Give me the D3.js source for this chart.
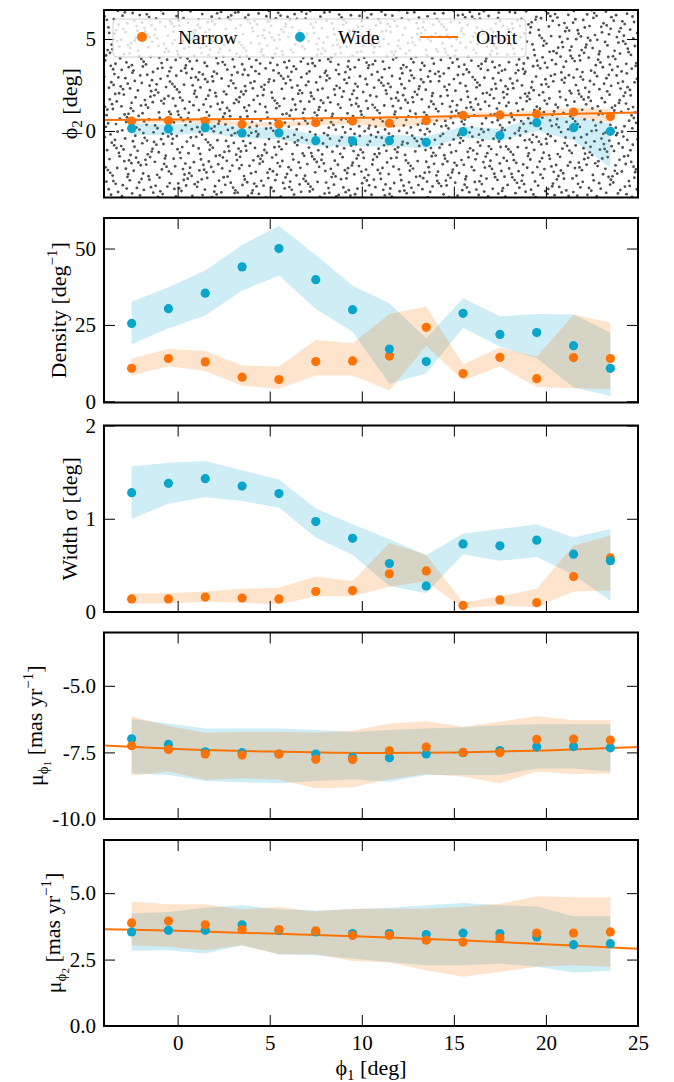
<!DOCTYPE html>
<html>
<head>
<meta charset="utf-8">
<script src="https://cdn.jsdelivr.net/npm/d3@7"></script>
<style>
body { margin: 0; background: #fff; }
svg text { font-family: "Liberation Serif", "DejaVu Serif", "Times New Roman", Times, serif; fill: #000; }
</style>
</head>
<body>
<svg width="674" height="1082"></svg>
<script>
// bin centres along phi1 (deg)
var phi1Bins = [-2.5, -0.5, 1.5, 3.5, 5.5, 7.5, 9.5, 11.5, 13.5, 15.5, 17.5, 19.5, 21.5, 23.5];

// phi2 track
var narrowPhi2   = [0.54, 0.56, 0.54, 0.36, 0.36, 0.45, 0.54, 0.42, 0.56, 0.85, 0.87, 0.92, 1.03, 0.78];
var narrowPhi2Lo = [0.42, 0.44, 0.42, 0.24, 0.24, 0.30, 0.38, 0.15, 0.40, 0.70, 0.72, 0.75, 0.75, 0.45];
var narrowPhi2Hi = [0.66, 0.68, 0.66, 0.48, 0.48, 0.60, 0.70, 0.85, 0.72, 1.00, 1.02, 1.10, 1.25, 1.20];
var widePhi2     = [0.13, 0.11, 0.18, -0.11, -0.11, -0.53, -0.54, -0.53, -0.62, -0.04, -0.25, 0.45, 0.18, -0.02];
var widePhi2Lo   = [-0.20, -0.25, -0.10, -0.40, -0.45, -0.85, -0.85, -0.85, -0.95, -0.35, -0.55, 0.00, -0.50, -2.00];
var widePhi2Hi   = [0.40, 0.35, 0.45, 0.20, 0.20, -0.20, -0.25, -0.20, -0.30, 0.25, 0.10, 0.80, 0.75, 0.40];

// linear density
var narrowDens   = [10.8, 14.0, 12.9, 7.9, 7.1, 13.0, 13.2, 14.8, 24.2, 9.1, 14.4, 7.4, 14.3, 14.0];
var narrowDensLo = [8.4, 11.5, 9.9, 5.1, 4.1, 8.4, 8.4, 3.5, 18.2, 6.8, 11.4, 4.7, 4.3, 4.0];
var narrowDensHi = [14.0, 17.1, 16.5, 11.7, 11.4, 20.1, 19.0, 28.6, 31.0, 12.0, 17.6, 14.6, 28.3, 25.8];
var wideDens     = [25.5, 30.3, 35.4, 44.0, 50.0, 39.8, 30.0, 17.1, 13.0, 28.8, 21.9, 22.5, 18.2, 10.8];
var wideDensLo   = [18.7, 23.9, 28.1, 36.2, 41.2, 30.2, 22.8, 5.7, 9.2, 24.1, 17.9, 14.1, 4.6, 1.7];
var wideDensHi   = [32.6, 37.3, 42.8, 51.2, 57.4, 47.9, 37.8, 32.1, 20.6, 33.7, 27.8, 28.6, 28.4, 22.5];

// width sigma
var narrowWidth   = [0.14, 0.14, 0.16, 0.15, 0.14, 0.22, 0.23, 0.41, 0.44, 0.07, 0.13, 0.10, 0.38, 0.58];
var narrowWidthLo = [0.09, 0.09, 0.11, 0.10, 0.08, 0.17, 0.17, 0.27, 0.33, 0.04, 0.07, 0.05, 0.22, 0.23];
var narrowWidthHi = [0.20, 0.20, 0.22, 0.25, 0.26, 0.38, 0.33, 0.74, 0.61, 0.10, 0.17, 0.25, 0.71, 0.82];
var wideWidth     = [1.28, 1.38, 1.43, 1.35, 1.27, 0.97, 0.79, 0.52, 0.28, 0.73, 0.71, 0.77, 0.62, 0.55];
var wideWidthLo   = [1.00, 1.16, 1.23, 1.19, 1.12, 0.80, 0.61, 0.28, 0.20, 0.62, 0.55, 0.59, 0.40, 0.12];
var wideWidthHi   = [1.56, 1.60, 1.62, 1.52, 1.42, 1.11, 0.94, 0.78, 0.61, 0.84, 0.89, 0.94, 0.80, 0.89];

// proper motion mu_phi1
var narrowPm1   = [-7.25, -7.39, -7.56, -7.60, -7.56, -7.76, -7.77, -7.44, -7.30, -7.50, -7.51, -7.01, -7.00, -7.04];
var narrowPm1Lo = [-8.37, -8.22, -8.53, -8.47, -8.53, -8.85, -8.81, -8.51, -8.31, -8.41, -8.66, -8.22, -8.31, -8.29];
var narrowPm1Hi = [-6.14, -6.51, -6.76, -6.73, -6.73, -6.75, -6.69, -6.42, -6.33, -6.54, -6.35, -6.14, -6.29, -6.29];
var widePm1     = [-6.99, -7.20, -7.48, -7.51, -7.56, -7.56, -7.69, -7.70, -7.56, -7.51, -7.43, -7.29, -7.28, -7.33];
var widePm1Lo   = [-8.29, -8.35, -8.57, -8.62, -8.66, -8.57, -8.51, -8.60, -8.35, -8.35, -8.35, -8.10, -8.10, -8.22];
var widePm1Hi   = [-6.25, -6.42, -6.60, -6.60, -6.60, -6.66, -6.73, -6.66, -6.60, -6.56, -6.48, -6.44, -6.44, -6.44];

// proper motion mu_phi2
var narrowPm2   = [3.88, 3.95, 3.81, 3.63, 3.63, 3.58, 3.41, 3.41, 3.23, 3.16, 3.31, 3.50, 3.50, 3.54];
var narrowPm2Lo = [3.04, 2.98, 2.85, 3.04, 2.70, 2.70, 2.45, 2.39, 2.10, 1.85, 2.04, 2.23, 2.29, 2.23];
var narrowPm2Hi = [4.69, 4.58, 4.58, 4.38, 4.48, 4.31, 4.41, 4.41, 4.41, 4.48, 4.60, 4.88, 4.85, 4.85];
var widePm2     = [3.54, 3.60, 3.60, 3.81, 3.60, 3.54, 3.48, 3.48, 3.44, 3.50, 3.48, 3.35, 3.06, 3.10];
var widePm2Lo   = [2.83, 2.85, 2.73, 3.04, 2.70, 2.66, 2.54, 2.41, 2.29, 2.29, 2.35, 2.23, 2.01, 2.08];
var widePm2Hi   = [4.23, 4.29, 4.45, 4.54, 4.39, 4.35, 4.39, 4.45, 4.54, 4.63, 4.54, 4.50, 4.13, 4.13];

// orbit model, sampled along phi1
var orbitPhi1 = [-4, 0, 5, 10, 15, 20, 25];
var orbitPhi2 = [0.60, 0.62, 0.66, 0.72, 0.80, 0.90, 1.01];
var orbitPm1  = [-7.24, -7.37, -7.47, -7.52, -7.50, -7.43, -7.30];
var orbitPm2  = [3.64, 3.58, 3.48, 3.37, 3.24, 3.08, 2.91];

// tick values
var xTicks = [0, 5, 10, 15, 20, 25];
var phi2Ticks = [0, 5];
var densTicks = [0, 25, 50];
var widthTicks = [0, 1, 2];
var pm1Ticks = [-10, -7.5, -5];
var pm2Ticks = [0, 2.5, 5];

var orange = '#fb7306';
var blue = '#0aa5cb';
var serif = '"Liberation Serif", "DejaVu Serif", "Times New Roman", Times, serif';

var svg = d3.select('svg');
var left = 104, right = 638;
var tops = [10, 218, 425.5, 632.5, 840];
var bottoms = [197.5, 402.5, 612, 819, 1026];

var xScale = d3.scaleLinear().domain([-4, 25]).range([0, right - left]);

function series(v, lo, hi) {
    return phi1Bins.map(function(x, i) { return {x: x, v: v[i], lo: lo[i], hi: hi[i]}; });
}

var panels = [
    {domain: [-3.62, 6.58], ticks: phi2Ticks, fmt: d3.format('d'),
     narrow: series(narrowPhi2, narrowPhi2Lo, narrowPhi2Hi),
     wide: series(widePhi2, widePhi2Lo, widePhi2Hi),
     orbit: orbitPhi2, stars: true, legend: true, wideOnTop: true,
     label: [{t: 'ϕ'}, {t: '2', sub: 1}, {t: ' [deg]', back: 1}]},
    {domain: [-0.4, 60], ticks: densTicks, fmt: d3.format('d'),
     narrow: series(narrowDens, narrowDensLo, narrowDensHi),
     wide: series(wideDens, wideDensLo, wideDensHi), wideOnTop: true,
     label: [{t: 'Density [deg'}, {t: '−1', sup: 1}, {t: ']', back: -1}]},
    {domain: [0, 2], ticks: widthTicks, fmt: d3.format('d'),
     narrow: series(narrowWidth, narrowWidthLo, narrowWidthHi),
     wide: series(wideWidth, wideWidthLo, wideWidthHi), wideOnTop: true,
     label: [{t: 'Width σ [deg]'}]},
    {domain: [-10, -3], ticks: pm1Ticks, fmt: function(d) { return d3.format('.1f')(d).replace('−', '-'); },
     narrow: series(narrowPm1, narrowPm1Lo, narrowPm1Hi),
     wide: series(widePm1, widePm1Lo, widePm1Hi),
     orbit: orbitPm1, wideOnTop: false,
     label: 'pm1'},
    {domain: [0, 7], ticks: pm2Ticks, fmt: d3.format('.1f'),
     narrow: series(narrowPm2, narrowPm2Lo, narrowPm2Hi),
     wide: series(widePm2, widePm2Lo, widePm2Hi),
     orbit: orbitPm2, wideOnTop: false, xlabels: true,
     label: 'pm2'}
];

// quasi-random (Halton) star field, only a background texture for the top panel
function halton(i, b) {
    var f = 1, r = 0;
    while (i > 0) { f /= b; r += f * (i % b); i = Math.floor(i / b); }
    return r;
}
var starCount = 2000;
var starField = d3.range(1, starCount + 1).map(function(i) {
    return {x: -4 + 29 * halton(i, 2), y: -3.62 + 10.2 * halton(i, 3)};
});

panels.forEach(function(p, k) {
    var h = bottoms[k] - tops[k];
    var yScale = d3.scaleLinear().domain(p.domain).range([h, 0]);
    var g = svg.append('g').attr('transform', 'translate(' + [left, tops[k]] + ')');

    g.append('clipPath').attr('id', 'clip' + k)
        .append('rect').attr('width', right - left).attr('height', h);
    var plot = g.append('g').attr('clip-path', 'url(#clip' + k + ')');

    if (p.stars) {
        plot.selectAll('.star').data(starField).enter().append('circle')
            .attr('class', 'star')
            .attr('cx', function(d) { return xScale(d.x); })
            .attr('cy', function(d) { return yScale(d.y); })
            .attr('r', 1.4)
            .attr('fill', '#505050');
    }

    var area = d3.area()
        .x(function(d) { return xScale(d.x); })
        .y0(function(d) { return yScale(d.lo); })
        .y1(function(d) { return yScale(d.hi); });

    plot.append('path').datum(p.wide).attr('d', area)
        .attr('fill', blue).attr('fill-opacity', 0.2);
    plot.append('path').datum(p.narrow).attr('d', area)
        .attr('fill', orange).attr('fill-opacity', 0.2);

    if (p.orbit) {
        var line = d3.line()
            .x(function(d, i) { return xScale(orbitPhi1[i]); })
            .y(function(d) { return yScale(d); })
            .curve(d3.curveMonotoneX);
        plot.append('path').datum(p.orbit).attr('d', line)
            .attr('fill', 'none').attr('stroke', orange).attr('stroke-width', 2);
    }

    var order = p.wideOnTop ? [[p.narrow, orange], [p.wide, blue]] : [[p.wide, blue], [p.narrow, orange]];
    order.forEach(function(s) {
        plot.append('g').selectAll('circle').data(s[0]).enter().append('circle')
            .attr('cx', function(d) { return xScale(d.x); })
            .attr('cy', function(d) { return yScale(d.v); })
            .attr('r', 4.6)
            .attr('fill', s[1]);
    });

    // axes with inward ticks on all four sides
    var yl = g.append('g').call(d3.axisLeft(yScale).tickValues(p.ticks).tickSize(-11).tickPadding(8).tickFormat(p.fmt));
    var yr = g.append('g').attr('transform', 'translate(' + (right - left) + ',0)')
        .call(d3.axisRight(yScale).tickValues(p.ticks).tickSize(-11).tickFormat(''));
    var xt = g.append('g').call(d3.axisTop(xScale).tickValues(xTicks).tickSize(-11).tickFormat(''));
    var xb = g.append('g').attr('transform', 'translate(0,' + h + ')')
        .call(d3.axisBottom(xScale).tickValues(xTicks).tickSize(-11).tickPadding(9)
            .tickFormat(p.xlabels ? d3.format('d') : ''));
    [yl, yr, xt, xb].forEach(function(a) {
        a.attr('font-family', serif);
        a.select('.domain').remove();
        a.selectAll('line').attr('stroke', '#000').attr('stroke-width', 1);
        a.selectAll('text').attr('font-size', 21).style('font-family', serif);
    });

    g.append('rect').attr('width', right - left).attr('height', h)
        .attr('fill', 'none').attr('stroke', '#000').attr('stroke-width', 2);

    // y label, placed left of the widest tick label
    var minX = d3.min(yl.selectAll('text').nodes(), function(n) { return n.getBBox().x; });
    var lab = g.append('text')
        .attr('transform', 'translate(' + (minX - 9) + ',' + (h / 2) + ') rotate(-90)')
        .attr('text-anchor', 'middle')
        .attr('font-size', 22)
        .style('font-family', serif);
    var parts = p.label;
    if (p.label === 'pm1' || p.label === 'pm2') {
        parts = [{t: 'μ'}, {t: 'ϕ', sub: 1, small: 15}, {t: p.label === 'pm1' ? '1' : '2', dy: 3, small: 11},
                 {t: ' [mas yr', dy: -9}, {t: '−1', sup: 1}, {t: ']', back: -1}];
    }
    parts.forEach(function(q) {
        var ts = lab.append('tspan').text(q.t);
        if (q.sub) ts.attr('dy', 5).attr('font-size', q.small || 15);
        if (q.small && !q.sub) ts.attr('font-size', q.small);
        if (q.dy) ts.attr('dy', q.dy);
        if (q.sup) ts.attr('dy', -9).attr('font-size', 15);
        if (q.back === 1) ts.attr('dy', -5);
        if (q.back === -1) ts.attr('dy', 9);
    });

    if (p.legend) {
        var lg = g.append('g').attr('transform', 'translate(' + [9, 9] + ')');
        lg.append('rect').attr('width', 413).attr('height', 38).attr('rx', 4)
            .attr('fill', '#fff').attr('fill-opacity', 0.8)
            .attr('stroke', '#d0d0d0').attr('stroke-width', 1);
        var items = [{name: 'Narrow', c: orange, type: 'dot', x: 29, tx: 65},
                     {name: 'Wide', c: blue, type: 'dot', x: 187, tx: 225},
                     {name: 'Orbit', c: orange, type: 'line', x: 307, tx: 363}];
        items.forEach(function(it) {
            if (it.type === 'dot') {
                lg.append('circle').attr('cx', it.x).attr('cy', 18).attr('r', 5).attr('fill', it.c);
            } else {
                lg.append('line').attr('x1', it.x).attr('x2', it.x + 38).attr('y1', 18).attr('y2', 18)
                    .attr('stroke', it.c).attr('stroke-width', 2);
            }
            lg.append('text').attr('x', it.tx).attr('y', 25).attr('font-size', 19.5)
                .style('font-family', serif).text(it.name);
        });
    }
});

svg.append('text')
    .attr('x', (left + right) / 2).attr('y', 1075)
    .attr('text-anchor', 'middle').attr('font-size', 22)
    .style('font-family', serif)
    .call(function(t) {
        t.append('tspan').text('ϕ');
        t.append('tspan').attr('dy', 5).attr('font-size', 15).text('1');
        t.append('tspan').attr('dy', -5).text(' [deg]');
    });
</script>
</body>
</html>
